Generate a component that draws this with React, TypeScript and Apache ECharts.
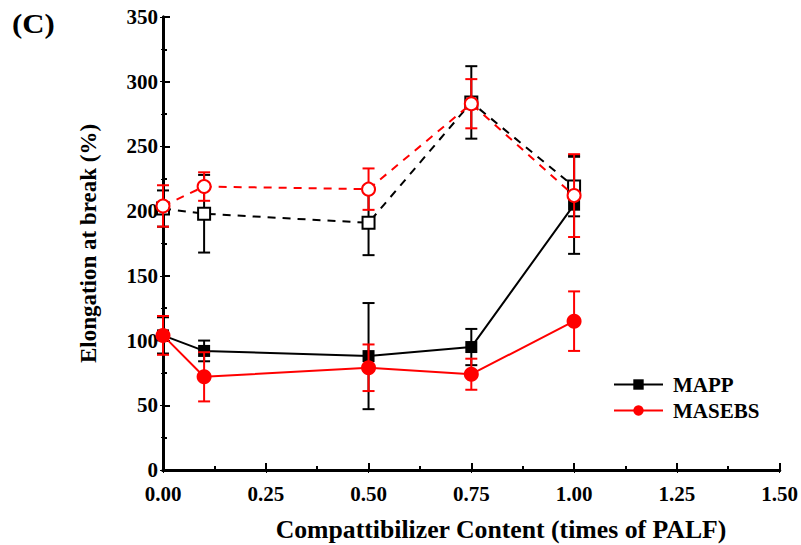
import React, { useEffect, useRef } from "react";
import * as echarts from "echarts";

const xs = [0, 0.1, 0.5, 0.75, 1.0];
const mappFilled = [104, 92, 88, 95, 205];
const mappFilledErr = [14, 8, 41, 14, 38];
const masebsFilled = [104, 72, 79, 74, 115];
const masebsFilledErr = [15, 19, 18, 12, 23];
const mappOpen = [202, 198, 191, 284, 219];
const mappOpenErr = [14, 30, 25, 28, 23];
const masebsOpen = [204, 219, 217, 283, 212];
const masebsOpenErr = [16, 11, 16, 19, 32];

const FONT = "'Liberation Serif', 'Times New Roman', serif";
const RED = "#ff0000";
const BLACK = "#000000";

function pts(ys: number[]) {
  return xs.map((x, i) => [x, ys[i]]);
}

function errSeries(ys: number[], errs: number[], color: string, z: number) {
  return {
    type: "custom",
    z,
    silent: true,
    data: xs.map((x, i) => [x, ys[i] - errs[i], ys[i] + errs[i]]),
    encode: { x: 0, y: [1, 2] },
    renderItem: (params: any, api: any) => {
      const x = api.value(0);
      const lo = api.coord([x, api.value(1)]);
      const hi = api.coord([x, api.value(2)]);
      const w = 6;
      const style = { stroke: color, lineWidth: 2 };
      return {
        type: "group",
        children: [
          { type: "line", shape: { x1: lo[0], y1: lo[1], x2: hi[0], y2: hi[1] }, style },
          { type: "line", shape: { x1: lo[0] - w, y1: lo[1], x2: lo[0] + w, y2: lo[1] }, style },
          { type: "line", shape: { x1: hi[0] - w, y1: hi[1], x2: hi[0] + w, y2: hi[1] }, style },
        ],
      };
    },
  };
}

export default function App() {
  const ref = useRef<HTMLDivElement>(null);
  useEffect(() => {
    if (!ref.current) return;
    const chart = echarts.init(ref.current, null, { renderer: "svg" });
    const axisLabel = { fontFamily: FONT, fontWeight: "bold", fontSize: 21, color: "#000" };
    chart.setOption({
      animation: false,
      backgroundColor: "#fff",
      grid: { left: 163, right: 20, top: 17, bottom: 75 },
      graphic: [
        {
          type: "text",
          x: 12,
          y: 23,
          scaleX: 1.1,
          style: {
            text: "(C)",
            font: `bold 28px ${FONT}`,
            fill: "#000",
            textAlign: "left",
            textVerticalAlign: "middle",
          },
        },
        {
          type: "text",
          x: 501,
          y: 529,
          scaleX: 1.03,
          style: {
            text: "Compattibilizer Content (times of PALF)",
            font: `bold 25px ${FONT}`,
            fill: "#000",
            textAlign: "center",
            textVerticalAlign: "middle",
          },
        },
      ],
      legend: {
        data: ["MAPP", "MASEBS"],
        orient: "vertical",
        left: 608,
        top: 369,
        itemWidth: 49,
        itemHeight: 13,
        itemGap: 5,
        textStyle: {
          fontFamily: FONT,
          fontWeight: "bold",
          fontSize: 21,
          color: "#000",
          padding: [0, 0, 0, 5],
        },
      },
      xAxis: [
        {
          type: "value",
          min: 0,
          max: 1.5,
          interval: 0.25,
          axisLine: { show: true, lineStyle: { color: "#000", width: 3 } },
          axisTick: { show: true, inside: true, length: 7, lineStyle: { color: "#000", width: 2 } },
          minorTick: { show: true, splitNumber: 2, length: 4, lineStyle: { color: "#000", width: 2 } },
          axisLabel: { ...axisLabel, margin: 13, formatter: (v: number) => v.toFixed(2) },
          splitLine: { show: false },
        },
        {
          type: "value",
          position: "top",
          min: 0,
          max: 1.5,
          interval: 0.25,
          axisLine: { show: true, lineStyle: { color: "#000", width: 3 } },
          axisTick: { show: true, inside: true, length: 3, lineStyle: { color: "#000", width: 1 } },
          minorTick: { show: true, splitNumber: 2, length: 2, lineStyle: { color: "#000", width: 1 } },
          axisLabel: { show: false },
          splitLine: { show: false },
        },
      ],
      yAxis: [
        {
          type: "value",
          min: 0,
          max: 350,
          interval: 50,
          name: "Elongation at break (%)",
          nameLocation: "middle",
          nameGap: 63,
          nameTextStyle: { fontFamily: FONT, fontWeight: "bold", fontSize: 23, color: "#000" },
          axisLine: { show: true, lineStyle: { color: "#000", width: 3 } },
          axisTick: { show: true, inside: true, length: 7, lineStyle: { color: "#000", width: 2 } },
          minorTick: { show: true, splitNumber: 2, length: 4, lineStyle: { color: "#000", width: 2 } },
          axisLabel: { ...axisLabel, margin: 5 },
          splitLine: { show: false },
        },
        {
          type: "value",
          position: "right",
          min: 0,
          max: 350,
          interval: 50,
          axisLine: { show: true, lineStyle: { color: "#000", width: 3 } },
          axisTick: { show: true, inside: true, length: 3, lineStyle: { color: "#000", width: 1 } },
          minorTick: { show: true, splitNumber: 2, length: 2, lineStyle: { color: "#000", width: 1 } },
          axisLabel: { show: false },
          splitLine: { show: false },
        },
      ],
      series: [
        errSeries(mappOpen, mappOpenErr, BLACK, 2),
        {
          name: "MAPP open",
          type: "line",
          z: 3,
          data: pts(mappOpen),
          symbol: "rect",
          symbolSize: 12,
          lineStyle: { color: BLACK, width: 2, type: [8, 7] },
          itemStyle: { color: "#fff", borderColor: BLACK, borderWidth: 2 },
        },
        errSeries(mappFilled, mappFilledErr, BLACK, 2),
        {
          name: "MAPP",
          type: "line",
          z: 3,
          data: pts(mappFilled),
          symbol: "rect",
          symbolSize: 12,
          lineStyle: { color: BLACK, width: 2 },
          itemStyle: { color: BLACK, borderColor: BLACK, borderWidth: 0 },
        },
        errSeries(masebsOpen, masebsOpenErr, RED, 4),
        {
          name: "MASEBS open",
          type: "line",
          z: 5,
          data: pts(masebsOpen),
          symbol: "circle",
          symbolSize: 13,
          lineStyle: { color: RED, width: 2, type: [8, 7] },
          itemStyle: { color: "#fff", borderColor: RED, borderWidth: 2 },
        },
        errSeries(masebsFilled, masebsFilledErr, RED, 4),
        {
          name: "MASEBS",
          type: "line",
          z: 5,
          data: pts(masebsFilled),
          symbol: "circle",
          symbolSize: 15,
          lineStyle: { color: RED, width: 2 },
          itemStyle: { color: RED, borderColor: RED, borderWidth: 0 },
        },
      ],
    });
    return () => chart.dispose();
  }, []);
  return <div ref={ref} style={{ width: 801, height: 545, position: "absolute", left: 0, top: 0 }} />;
}
